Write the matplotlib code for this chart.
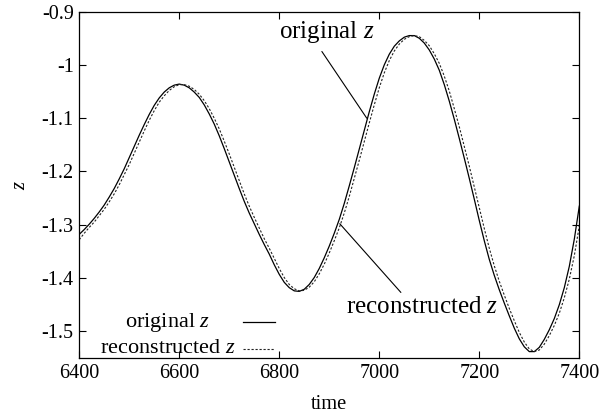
import matplotlib
matplotlib.use("Agg")
import matplotlib.pyplot as plt

plt.rcParams['font.family'] = ['Liberation Serif', 'DejaVu Serif']
plt.rcParams['mathtext.fontset'] = 'custom'
plt.rcParams['mathtext.rm'] = 'Liberation Serif'
plt.rcParams['mathtext.it'] = 'Liberation Serif:italic'

time = list(range(6400, 7401, 10))

original_z = [-1.318, -1.309, -1.299, -1.288, -1.276, -1.263, -1.248, -1.232, -1.214, -1.195,
              -1.174, -1.153, -1.132, -1.112, -1.093, -1.076, -1.062, -1.051, -1.043, -1.038,
              -1.036, -1.038, -1.043, -1.051, -1.061, -1.075, -1.092, -1.111, -1.133, -1.157,
              -1.182, -1.207, -1.232, -1.256, -1.278, -1.298, -1.318, -1.337, -1.355, -1.375,
              -1.393, -1.408, -1.418, -1.424, -1.425, -1.421, -1.412, -1.399, -1.382, -1.362,
              -1.340, -1.316, -1.290, -1.260, -1.227, -1.193, -1.158, -1.123, -1.088, -1.055,
              -1.025, -1.000, -0.980, -0.965, -0.955, -0.948, -0.945, -0.945, -0.950, -0.959,
              -0.972, -0.989, -1.010, -1.037, -1.068, -1.102, -1.138, -1.175, -1.213, -1.252,
              -1.292, -1.330, -1.365, -1.395, -1.422, -1.447, -1.471, -1.494, -1.514, -1.529,
              -1.538, -1.538, -1.530, -1.515, -1.497, -1.476, -1.450, -1.418, -1.378, -1.327,
              -1.265]

reconstructed_z = [-1.328, -1.316, -1.305, -1.295, -1.283, -1.271, -1.257, -1.242, -1.225, -1.206,
                   -1.187, -1.166, -1.145, -1.124, -1.104, -1.086, -1.070, -1.058, -1.048, -1.041,
                   -1.037, -1.037, -1.040, -1.046, -1.055, -1.067, -1.082, -1.100, -1.120, -1.143,
                   -1.167, -1.192, -1.217, -1.242, -1.265, -1.286, -1.306, -1.326, -1.344, -1.363,
                   -1.382, -1.399, -1.412, -1.420, -1.424, -1.423, -1.417, -1.407, -1.392, -1.374,
                   -1.353, -1.330, -1.306, -1.278, -1.247, -1.213, -1.179, -1.144, -1.109, -1.075,
                   -1.043, -1.015, -0.992, -0.974, -0.961, -0.952, -0.947, -0.945, -0.947, -0.954,
                   -0.964, -0.979, -0.997, -1.021, -1.049, -1.082, -1.116, -1.153, -1.190, -1.229,
                   -1.268, -1.307, -1.344, -1.377, -1.406, -1.432, -1.457, -1.480, -1.502, -1.520,
                   -1.533, -1.538, -1.535, -1.524, -1.508, -1.489, -1.466, -1.437, -1.402, -1.358,
                   -1.302]

xticks = [6400, 6600, 6800, 7000, 7200, 7400]
yticks = [-0.9, -1.0, -1.1, -1.2, -1.3, -1.4, -1.5]
ytick_labels = ['-0.9', '-1', '-1.1', '-1.2', '-1.3', '-1.4', '-1.5']

fig = plt.figure(figsize=(6.14, 4.16), dpi=100)
ax = fig.add_axes([0.129, 0.1394, 0.8145, 0.8327])

ax.plot(time, original_z, color='black', lw=0.9, solid_joinstyle='round')
ax.plot(time, reconstructed_z, color='#222222', lw=0.8, linestyle=(0, (2.0, 1.6)))

ax.set_xlim(6400, 7400)
ax.set_ylim(-1.55, -0.9)
ax.set_xticks(xticks)
ax.set_xticklabels([str(t) for t in xticks])
ax.set_yticks(yticks)
ax.set_yticklabels(ytick_labels)
ax.tick_params(direction='in', length=5, width=0.8, top=True, right=True,
               labelsize=14.5, pad=4)
for s in ax.spines.values():
    s.set_linewidth(0.9)

ax.set_xlabel('time', fontsize=14.8, labelpad=9)
ax.set_ylabel('$z$', fontsize=14.8, labelpad=8)

# annotations
ax.annotate('original $z$', xy=(6975, -1.100), xytext=(6894, -0.950),
            ha='center', va='baseline', fontsize=18,
            arrowprops=dict(arrowstyle='-', lw=0.8, color='black',
                            relpos=(0.41, 0.0), shrinkA=3, shrinkB=0))
ax.annotate('reconstructed $z$', xy=(6921, -1.298), xytext=(7085, -1.466),
            ha='center', va='baseline', fontsize=18,
            arrowprops=dict(arrowstyle='-', lw=0.8, color='black',
                            relpos=(0.385, 1.0), shrinkA=1, shrinkB=0))

# legend (manual, centred labels with line samples to the right)
ax.text(0.1764, 0.0904, 'original $z$', transform=ax.transAxes,
        ha='center', va='baseline', fontsize=16)
ax.text(0.1764, 0.0136, 'reconstructed $z$', transform=ax.transAxes,
        ha='center', va='baseline', fontsize=16)
ax.plot([0.327, 0.391], [0.1048, 0.1048], transform=ax.transAxes,
        color='black', lw=0.9)
ax.plot([0.327, 0.391], [0.0251, 0.0251], transform=ax.transAxes,
        color='#222222', lw=0.8, linestyle=(0, (2.0, 1.6)))

fig.savefig('out.png', dpi=100)
